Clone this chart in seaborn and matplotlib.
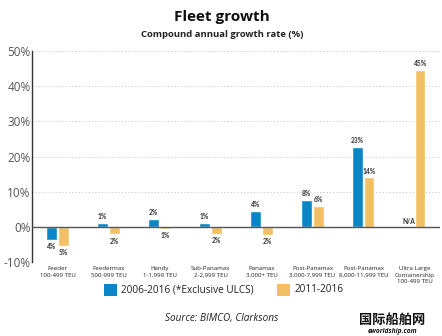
import matplotlib
matplotlib.use("Agg")
import matplotlib.pyplot as plt
import seaborn as sns
import pandas as pd
import numpy as np
from matplotlib.patches import Rectangle

categories = ["Feeder\n100-499 TEU", "Feedermax\n500-999 TEU", "Handy\n1-1,999 TEU",
              "Sub-Panamax\n2-2,999 TEU", "Panamax\n3,000+ TEU", "Post-Panamax\n3,000-7,999 TEU",
              "Post-Panamax\n8,000-11,999 TEU", "Ultra Large\nContainership\n100-499 TEU"]
series_names = ["2006-2016 (*Exclusive ULCS)", "2011-2016"]
values_2006 = [-3.6, 1.2, 2.3, 1.1, 4.5, 7.7, 22.8, np.nan]
values_2011 = [-5.3, -2.1, -0.5, -2.0, -2.2, 6.0, 14.1, 44.7]
labels_2006 = ["4%", "1%", "2%", "1%", "4%", "8%", "23%", "N/A"]
labels_2011 = ["5%", "2%", "1%", "2%", "2%", "6%", "14%", "45%"]
yticks = [-10, 0, 10, 20, 30, 40, 50]
ytick_labels = ["-10%", "0%", "10%", "20%", "30%", "40%", "50%"]

blue = "#0a86c6"
orange = "#f2bf63"

sns.set_style("white")
plt.rcParams['font.family'] = ['Open Sans', 'DejaVu Sans']

df = pd.DataFrame({
    "cat": categories * 2,
    "series": [series_names[0]] * len(categories) + [series_names[1]] * len(categories),
    "value": values_2006 + values_2011,
})

fig = plt.figure(figsize=(4.42, 3.36), dpi=100)
ax = fig.add_axes([0.0724, 0.220, 0.923, 0.628])

sns.barplot(data=df, x="cat", y="value", hue="series", order=categories,
            hue_order=series_names, palette=[blue, orange], width=0.46, gap=0.12,
            ax=ax, legend=False, saturation=1, zorder=3)

ax.set_ylim(-10, 50)
ax.set_xlim(-0.5, len(categories) - 0.5)
ax.set_yticks(yticks)
ax.set_yticklabels(ytick_labels, fontsize=8.5, color="#555555")
ax.set_xticks(range(len(categories)))
ax.set_xticklabels(categories, fontsize=4.4, color="#222222", linespacing=1.35)
ax.tick_params(axis="x", length=0, pad=3)
ax.tick_params(axis="y", length=3, width=0.8, direction="in", pad=1, color="#333333")
ax.set_xlabel("")
ax.set_ylabel("")

for y in yticks:
    if y != 0:
        ax.axhline(y, color="#c8c8c8", lw=0.7, ls=(0, (1.2, 2.2)), zorder=1)
ax.axhline(0, color="#555555", lw=1.0, zorder=4)

for s in ["top", "right", "bottom"]:
    ax.spines[s].set_visible(False)
ax.spines["left"].set_color("#333333")
ax.spines["left"].set_linewidth(1.0)

# value labels
lab_font = ["Lato", "DejaVu Sans"]
off = 0.115
for i in range(len(categories)):
    for vals, labs, dx in [(values_2006, labels_2006, -off), (values_2011, labels_2011, off)]:
        v = vals[i]
        lab = labs[i]
        if np.isnan(v):
            y, va = 0.6, "bottom"
        elif v >= 0:
            y, va = v + 0.8, "bottom"
        else:
            y, va = v - 1.0, "top"
        ax.text(i + dx, y, lab, ha="center", va=va, fontsize=4.8,
                fontweight="bold", color="#333333", family=lab_font)

# titles
fig.text(0.503, 0.950, "Fleet growth", ha="center", va="center", fontsize=11,
         fontweight="bold", color="#111111")
fig.text(0.503, 0.897, "Compound annual growth rate (%)", ha="center", va="center",
         fontsize=6.8, fontweight="bold", color="#222222")

# legend
for x0, col, name in [(0.235, blue, series_names[0]), (0.627, orange, series_names[1])]:
    fig.patches.append(Rectangle((x0, 0.118), 0.029, 0.038, transform=fig.transFigure,
                                 facecolor=col, edgecolor="none"))
    fig.text(x0 + 0.039, 0.138, name, ha="left", va="center", fontsize=7.2, color="#222222")

fig.text(0.502, 0.053, "Source: BIMCO, Clarksons", ha="center", va="center",
         fontsize=7.2, style="italic", color="#222222")

# watermark
fig.text(0.888, 0.047, "国际船舶网", ha="center", va="center", fontsize=9.5,
         fontweight="bold", color="#111111", family=["Noto Sans CJK SC", "DejaVu Sans"])
fig.text(0.888, 0.012, "eworldship.com", ha="center", va="center", fontsize=4.8,
         fontweight="bold", style="italic", color="#111111")

fig.savefig("out.png", dpi=100)
